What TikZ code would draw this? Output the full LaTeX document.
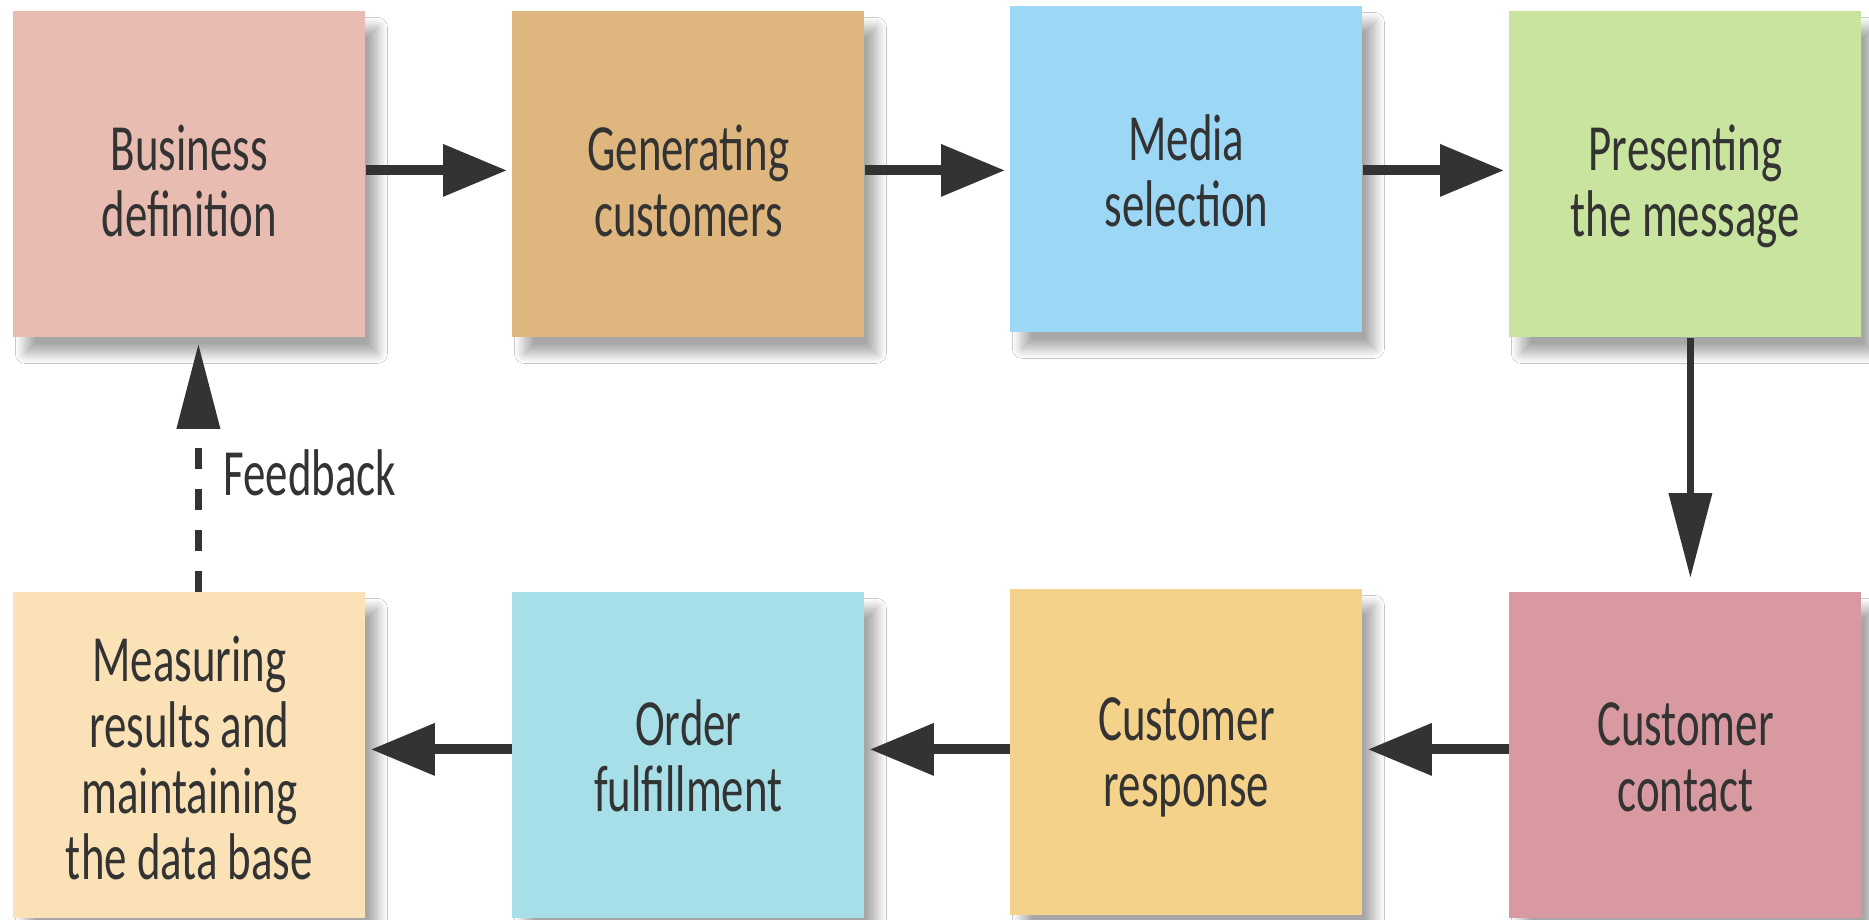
\documentclass[tikz,border=0pt]{standalone}
\usepackage{fontspec}
\newfontfamily\boxfont[FakeStretch=0.68]{Carlito}
\usetikzlibrary{arrows.meta,shadows.blur}
\definecolor{ink}{HTML}{333333}
\definecolor{cA}{HTML}{E8BCB1}
\definecolor{cB}{HTML}{DFB77E}
\definecolor{cC}{HTML}{9DD7F6}
\definecolor{cD}{HTML}{C9E49E}
\definecolor{cE}{HTML}{FBE2B6}
\definecolor{cF}{HTML}{A7DFE9}
\definecolor{cG}{HTML}{F5D289}
\definecolor{cH}{HTML}{D999A1}
\tikzset{
  stepbox/.style={anchor=north west, minimum width=176pt, minimum height=163pt,
    inner sep=0pt,
    blur shadow={shadow xshift=6pt, shadow yshift=-8pt, shadow blur radius=5pt,
      shadow blur steps=20, shadow opacity=35}},
  boxtext/.style={align=center, text=ink, inner sep=0pt, text depth=0pt,
    font=\boxfont\fontsize{33}{33}\selectfont},
  harrow/.style={draw=ink, line width=5pt, -{Triangle[length=32pt,width=25pt]}, shorten >=2.5pt},
  varrow/.style={draw=ink, line width=3.5pt, -{Triangle[length=42.5pt,width=21pt]}},
}
\begin{document}
\begin{tikzpicture}[x=0.5pt,y=-0.5pt]
\useasboundingbox[fill=white] (0,0) rectangle (1869,920);
% top row
\node[stepbox, fill=cA] (b1) at (13,11) {};
\node[stepbox, fill=cB] (b2) at (512,11) {};
\node[stepbox, fill=cC] (b3) at (1010,6) {};
\node[stepbox, fill=cD] (b4) at (1509,11) {};
% bottom row
\node[stepbox, fill=cE] (b5) at (13,592) {};
\node[stepbox, fill=cF] (b6) at (512,592) {};
\node[stepbox, fill=cG] (b7) at (1010,589) {};
\node[stepbox, fill=cH] (b8) at (1509,592) {};
% texts
\node[boxtext] (t1) at ([yshift=-3pt]b1.center) {Business\\definition};
\node[boxtext] (t2) at ([yshift=-3pt]b2.center) {Generating\\customers};
\node[boxtext] (t3) at ([yshift=-0.5pt]b3.center) {Media\\selection};
\node[boxtext] (t4) at ([yshift=-3pt]b4.center) {Presenting\\the message};
\node[boxtext] (t5) at ([yshift=-1pt]b5.center) {Measuring\\results and\\maintaining\\the data base};
\node[boxtext] (t6) at (b6.center) {Order\\fulfillment};
\node[boxtext] (t7) at (b7.center) {Customer\\response};
\node[boxtext] (t8) at ([yshift=-1pt]b8.center) {Customer\\contact};
% connectors top row
\draw[harrow] ([yshift=2pt]b1.east) -- ([yshift=2pt]b1.east -| b2.west);
\draw[harrow] ([yshift=2pt]b2.east) -- ([yshift=2pt]b2.east -| b3.west);
\draw[harrow] ([yshift=2pt]b4.west -| b3.east) -- ([yshift=2pt]b4.west);
% down
\draw[varrow, shorten >=7pt] ([xshift=2.5pt]b4.south) -- ([xshift=2.5pt]b4.south |- b8.north);
% bottom row
\draw[harrow] ([yshift=3pt]b8.west) -- ([yshift=3pt]b8.west -| b7.east);
\draw[harrow] ([yshift=3pt]b6.east -| b7.west) -- ([yshift=3pt]b6.east);
\draw[harrow] ([yshift=3pt]b6.west) -- ([yshift=3pt]b5.east);
% feedback
\draw[varrow, dash pattern=on 10.5pt off 10pt, shorten >=3pt] ([xshift=4.5pt]b5.north) -- ([xshift=4.5pt]b5.north |- b1.south);
\node[boxtext, anchor=base west] (fb) at (223,495) {Feedback};
\end{tikzpicture}
\end{document}
